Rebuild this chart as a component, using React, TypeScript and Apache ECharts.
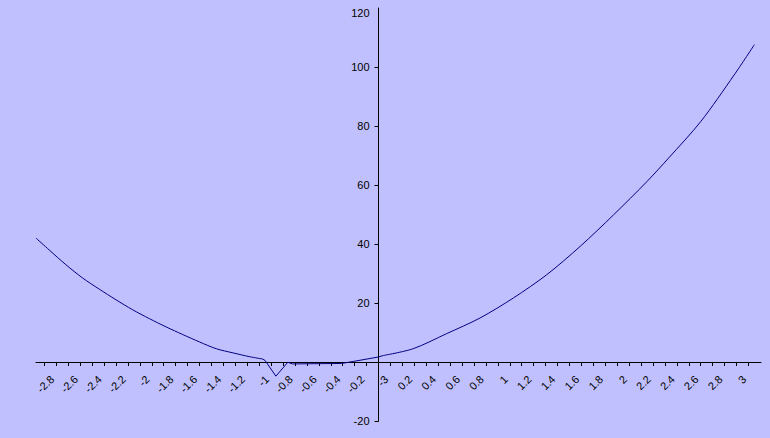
import React, { useEffect, useRef } from "react";
import * as echarts from "echarts";

// Curve samples
const xValues = [
  -2.87, -2.76, -2.62, -2.48, -2.34, -2.2, -2.06, -1.92, -1.78, -1.64, -1.5,
  -1.36, -1.22, -1.08, -0.97, -0.95, -0.86, -0.76, -0.72, -0.31, -0.21, 0.0,
  0.04, 0.29, 0.57, 0.85, 1.13, 1.41, 1.69, 1.97, 2.25, 2.43, 2.7, 2.98, 3.15,
];
const yValues = [
  42.0, 38.0, 33.0, 28.5, 24.7, 21.1, 17.7, 14.7, 11.9, 9.3, 6.8, 4.5, 3.1,
  1.8, 1.0, 0.5, -4.8, -0.1, -0.65, -0.5, 0.2, 1.7, 2.2, 4.5, 9.6, 14.9, 21.7,
  29.6, 39.2, 49.9, 61.2, 69.1, 81.5, 97.3, 107.6,
];

// Axis ticks and labels
const xTickValues = [
  -2.8, -2.7, -2.6, -2.5, -2.4, -2.3, -2.2, -2.1, -2, -1.9, -1.8, -1.7, -1.6,
  -1.5, -1.4, -1.3, -1.2, -1.1, -1, -0.9, -0.8, -0.7, -0.6, -0.5, -0.4, -0.3,
  -0.2, -0.1, 0, 0.1, 0.2, 0.3, 0.4, 0.5, 0.6, 0.7, 0.8, 0.9, 1, 1.1, 1.2, 1.3,
  1.4, 1.5, 1.6, 1.7, 1.8, 1.9, 2, 2.1, 2.2, 2.3, 2.4, 2.5, 2.6, 2.7, 2.8, 2.9,
  3, 3.1,
];
const xLabelValues = [
  -2.8, -2.6, -2.4, -2.2, -2, -1.8, -1.6, -1.4, -1.2, -1, -0.8, -0.6, -0.4,
  -0.2, 0, 0.2, 0.4, 0.6, 0.8, 1, 1.2, 1.4, 1.6, 1.8, 2, 2.2, 2.4, 2.6, 2.8, 3,
];
const xLabelTexts = [
  "-2.8", "-2.6", "-2.4", "-2.2", "-2", "-1.8", "-1.6", "-1.4", "-1.2", "-1",
  "-0.8", "-0.6", "-0.4", "-0.2", "-3", "0.2", "0.4", "0.6", "0.8", "1", "1.2",
  "1.4", "1.6", "1.8", "2", "2.2", "2.4", "2.6", "2.8", "3",
];
const yLabelValues = [-20, 20, 40, 60, 80, 100, 120];
const yTickValues = [-20, 20, 40, 60, 80, 100];

const X_MIN = -2.87;
const X_MAX = 3.205;
const Y_MIN = -20;
const Y_MAX = 120;

export default function App() {
  const ref = useRef<HTMLDivElement>(null);

  useEffect(() => {
    if (!ref.current) return;
    const chart = echarts.init(ref.current, undefined, { renderer: "svg" });
    const W = 770;
    const H = 438;
    const gLeft = 36;
    const gRight = 9;
    const gTop = 8;
    const gBottom = 17;
    const gW = W - gLeft - gRight;
    const gH = H - gTop - gBottom;
    // move axes to cross at zero (labels follow the axis with offset)
    const xAxisOffset = -(gH * (0 - Y_MIN)) / (Y_MAX - Y_MIN);
    const yAxisOffset = -(gW * (0 - X_MIN)) / (X_MAX - X_MIN);

    const pts = xValues.map((x, i) => [x, yValues[i]]);
    const leftPart = pts.slice(0, 15);
    const midPart = pts.slice(14, 23);
    const rightPart = pts.slice(22);
    const font = "Liberation Sans, Arial, sans-serif";
    const lineSeries = (data: number[][], smooth: number | boolean) => ({
      type: "line",
      data,
      showSymbol: false,
      symbol: "none",
      smooth,
      lineStyle: { color: "#000080", width: 1 },
      silent: true,
    });
    chart.setOption({
      animation: false,
      backgroundColor: "#c0c0ff",
      grid: {
        left: gLeft,
        right: gRight,
        top: gTop,
        bottom: gBottom,
        containLabel: false,
        outerBoundsMode: "none",
      },
      xAxis: {
        type: "value",
        min: X_MIN,
        max: X_MAX,
        position: "bottom",
        offset: xAxisOffset,
        axisLine: { show: true, onZero: false, lineStyle: { color: "#000", width: 1 } },
        axisTick: {
          show: true,
          inside: false,
          length: 4,
          customValues: xTickValues,
          lineStyle: { color: "#000", width: 1 },
        },
        axisLabel: {
          show: true,
          rotate: 45,
          margin: 23,
          padding: [0, -11, 0, 0],
          customValues: xLabelValues,
          color: "#000",
          fontSize: 11,
          fontFamily: font,
          hideOverlap: false,
          formatter: (v: number) => {
            const idx = xLabelValues.findIndex((t) => Math.abs(t - v) < 1e-9);
            return idx >= 0 ? xLabelTexts[idx] : "";
          },
        },
        splitLine: { show: false },
      },
      yAxis: {
        type: "value",
        min: Y_MIN,
        max: Y_MAX,
        position: "left",
        offset: yAxisOffset,
        axisLine: { show: true, onZero: false, lineStyle: { color: "#000", width: 1 } },
        axisTick: {
          show: true,
          length: 4,
          customValues: yTickValues,
          lineStyle: { color: "#000", width: 1 },
        },
        axisLabel: {
          show: true,
          margin: 9,
          customValues: yLabelValues,
          color: "#000",
          fontSize: 11,
          fontFamily: font,
          formatter: (v: number) => (v === 120 ? "{top|120}" : String(v)),
          rich: {
            top: {
              fontSize: 11,
              fontFamily: font,
              color: "#000",
              padding: [9, 0, 0, 0],
            },
          },
        },
        splitLine: { show: false },
      },
      series: [
        lineSeries(leftPart, 0.3),
        lineSeries(midPart, false),
        lineSeries(rightPart, 0.3),
      ],
    });
    return () => chart.dispose();
  }, []);

  return (
    <div
      ref={ref}
      style={{ position: "absolute", left: 0, top: 0, width: 770, height: 438 }}
    />
  );
}
